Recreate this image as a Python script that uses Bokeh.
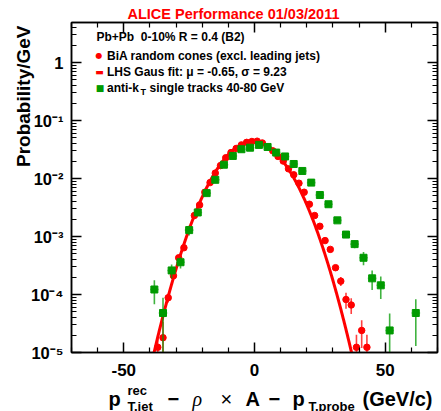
import numpy as np
from bokeh.plotting import figure
from bokeh.layouts import column
from bokeh.models import (Label, LinearAxis, LogAxis, FixedTicker, ColumnDataSource, Range1d, Title)
from bokeh.embed import file_html
from bokeh.resources import INLINE

# ---------------- data ----------------
red_x = [-37, -35, -33, -31, -29, -27, -25, -23, -21, -19, -17, -15, -13, -11, -9, -7, -5, -3, -1,
         1, 3, 5, 7, 9, 11, 13, 15, 17, 19, 21, 23, 25, 27, 29, 31, 33, 35, 37, 39, 41, 43]
red_y = [1.23e-5, 1.8e-5, 8.8e-5, 2.1e-4, 4.3e-4, 6.4e-4, 1.32e-3, 2.3e-3, 3.5e-3, 5.8e-3, 8.5e-3,
         1.24e-2, 1.67e-2, 2.28e-2, 2.8e-2, 3.3e-2, 3.8e-2, 4.2e-2, 4.35e-2,
         4.4e-2, 4.1e-2, 3.5e-2, 3.0e-2, 2.4e-2, 2.0e-2, 1.47e-2, 1.16e-2, 8.3e-3, 5.8e-3, 3.6e-3,
         2.3e-3, 1.5e-3, 8.5e-4, 6.0e-4, 2.9e-4, 1.7e-4, 8.2e-5, 6.6e-5, 1.23e-5, 2.4e-5, 1.23e-5]
red_err = [5e-6, 1.6e-5, 1.5e-5, 2e-5, 3e-5, 4e-5, 6e-5, 8e-5, 1e-4, 1.3e-4, 1.6e-4,
           2e-4, 2.3e-4, 2.7e-4, 3e-4, 3.3e-4, 3.5e-4, 3.7e-4, 3.8e-4,
           3.8e-4, 3.7e-4, 3.4e-4, 3.2e-4, 2.8e-4, 2.5e-4, 2.2e-4, 1.9e-4, 1.6e-4, 1.3e-4, 1e-4,
           8e-5, 6e-5, 4.5e-5, 3.5e-5, 3e-5, 3e-5, 2.5e-5, 2e-5, 8e-6, 1.2e-5, 8e-6]

green_x = [-38.3, -35.0, -31.7, -28.3, -25.0, -21.7, -18.3, -15.0, -11.7, -8.3, -5.0, -1.7,
           1.7, 5.0, 8.3, 11.7, 15.0, 18.3, 21.7, 25.0, 28.3, 31.7, 35.0, 38.3, 41.7, 45.0,
           48.3, 51.7, 61.7]
green_y = [1.22e-4, 4.8e-5, 2.6e-4, 3.6e-4, 1.29e-3, 2.6e-3, 5.6e-3, 9.5e-3, 1.73e-2, 2.45e-2,
           3.2e-2, 3.4e-2, 3.8e-2, 3.5e-2, 2.8e-2, 2.4e-2, 1.78e-2, 1.35e-2, 8.5e-3, 5.2e-3,
           3.6e-3, 1.9e-3, 1.08e-3, 7.4e-4, 4.3e-4, 1.9e-4, 1.44e-4, 2.4e-5, 4.8e-5]
green_err = [5.4e-5, 4.0e-5, 7e-5, 8e-5, 2.5e-4, 3e-4, 4e-4, 5e-4, 7e-4, 8e-4, 1e-3, 1e-3,
             1e-3, 1e-3, 9e-4, 8e-4, 7e-4, 6e-4, 4e-4, 3e-4, 2.5e-4, 1.8e-4, 1.3e-4, 1.1e-4,
             1.1e-4, 7e-5, 6e-5, 2.3e-5, 3.5e-5]
green_half_bin = 1.67

fit_mu = -0.65
fit_sigma = 9.23

x_ticks = [-50, 0, 50]
y_ticks = [1e-5, 1e-4, 1e-3, 1e-2, 1e-1, 1.0]
y_tick_labels = ["10\u207b\u2075", "10\u207b\u2074", "10\u207b\u00b3", "10\u207b\u00b2", "10\u207b\u00b9", "1"]

# ---------------- main figure ----------------
W, H = 441, 411
FL, FT, FW, FH = 71, 22, 366, 330
FB = FT + FH
BOTTOM = 37                  # bottom border of the main plot (x tick labels)
MAIN_H = FB + BOTTOM
OVERLAP = 8                  # the x-title strip slides up under the tick-label band
STRIP_TOP = MAIN_H - OVERLAP
XH = H - STRIP_TOP

p = figure(frame_width=FW, frame_height=FH, x_range=Range1d(-70, 70), y_range=Range1d(1e-5, 4.9),
           y_axis_type="log", output_backend="svg", toolbar_location=None,
           min_border_left=FL, min_border_right=W - FL - FW, min_border_top=FT,
           min_border_bottom=BOTTOM, background_fill_color="white", border_fill_color="white")
p.frame_align = False
p.xgrid.visible = False
p.ygrid.visible = False
p.outline_line_color = "black"
p.outline_line_width = 1.5

p.title.text = "ALICE Performance 01/03/2011"
p.title.text_color = "#ff0000"
p.title.text_font = "Liberation Sans"
p.title.text_font_style = "bold"
p.title.text_font_size = "14.5px"
p.title.align = "left"
p.title.offset = 56
p.title.standoff = 2

ylab = Title(text="Probability/GeV", align="right", offset=3, text_font="Liberation Sans",
             text_font_style="bold", text_font_size="19px", text_color="black",
             vertical_align="top", standoff=-17)

minor_y = [k * 10.0 ** e for e in range(-5, 1) for k in range(2, 10)]
minor_x = [v for v in range(-70, 71, 10) if v not in x_ticks]
xt = FixedTicker(ticks=x_ticks, minor_ticks=minor_x)
yt = FixedTicker(ticks=y_ticks, minor_ticks=minor_y)

def style_axis(ax, ticks, labels, size="17px"):
    ax.major_tick_in = 10
    ax.major_tick_out = 0
    ax.minor_tick_in = 5
    ax.minor_tick_out = 0
    ax.axis_line_width = 1.5
    ax.major_tick_line_width = 1.5
    ax.minor_tick_line_width = 1.2
    ax.axis_line_color = "black"
    ax.major_tick_line_color = "black"
    ax.minor_tick_line_color = "black"
    ax.major_label_overrides = dict(zip(ticks, labels))
    ax.major_label_text_font = "Liberation Sans"
    ax.major_label_text_font_style = "bold"
    ax.major_label_text_font_size = size
    ax.major_label_text_color = "black"

p.xaxis[0].ticker = xt
p.yaxis[0].ticker = yt
style_axis(p.xaxis[0], x_ticks, [str(v) for v in x_ticks])
style_axis(p.yaxis[0], y_ticks, y_tick_labels, size="16.5px")
p.xaxis[0].major_label_standoff = 11
p.yaxis[0].major_label_standoff = 8

top_ax = LinearAxis(ticker=xt)
style_axis(top_ax, x_ticks, [""] * len(x_ticks), size="1px")
top_ax.major_label_standoff = 0
p.add_layout(top_ax, "above")
right_ax = LogAxis(ticker=yt)
style_axis(right_ax, y_ticks, [""] * len(y_ticks), size="1px")
right_ax.major_label_standoff = 0
p.add_layout(right_ax, "right")
p.add_layout(ylab, "left")

# ---------------- glyphs ----------------
red = "#ff0000"
green = "#009a00"
ry = np.array(red_y); re = np.array(red_err)
rsrc = ColumnDataSource(dict(x=red_x, y=red_y, lo=np.maximum(ry - re, 1e-7), hi=ry + re))
gy = np.array(green_y); ge = np.array(green_err); gx = np.array(green_x)
gsrc = ColumnDataSource(dict(x=green_x, y=green_y, lo=np.maximum(gy - ge, 1e-7), hi=gy + ge,
                             xl=gx - green_half_bin, xr=gx + green_half_bin))

p.segment(x0="x", y0="lo", x1="x", y1="hi", source=rsrc, line_color=red, line_width=1.6, line_alpha=0.75)
p.scatter(x="x", y="y", source=rsrc, marker="circle", size=6.5, fill_color=red, line_color=red)

fx = np.linspace(-45, 45, 500)
fy = np.exp(-0.5 * ((fx - fit_mu) / fit_sigma) ** 2) / (np.sqrt(2 * np.pi) * fit_sigma)
p.line(fx, fy, line_color=red, line_width=3)

p.segment(x0="xl", y0="y", x1="xr", y1="y", source=gsrc, line_color=green, line_width=1.6, line_alpha=0.45)
p.segment(x0="x", y0="lo", x1="x", y1="hi", source=gsrc, line_color=green, line_width=1.6, line_alpha=0.75)
p.scatter(x="x", y="y", source=gsrc, marker="square", size=7, fill_color=green, line_color=green)

# ---------------- legend block (inside the frame) ----------------
def lab(text, cx, cy, size, color="black", style="bold", font="Liberation Sans",
        align="left", baseline="middle"):
    p.add_layout(Label(x=cx - FL, y=FB - cy, x_units="screen", y_units="screen", text=text,
                       text_font=font, text_font_size=f"{size}px", text_font_style=style,
                       text_color=color, text_align=align, text_baseline=baseline))

lab("Pb+Pb\u00a0 0-10% R = 0.4 (B2)", 96, 36.5, 12)
lab("\u25cf", 98.5, 55, 8, color=red, style="normal", font="DejaVu Sans", align="center")
lab("BiA random cones (excl. leading jets)", 106.5, 55, 12)
lab("\u25ac", 99, 71, 9, color=red, style="normal", font="DejaVu Sans", align="center")
lab("LHS Gaus fit: \u03bc = -0.65, \u03c3 = 9.23", 106.5, 71, 12)
lab("\u25a0", 99.5, 87.5, 9, color=green, style="normal", font="DejaVu Sans", align="center")
lab("anti-k", 106.5, 87.5, 12)
lab("T", 140, 91.5, 9)
lab("single tracks 40-80 GeV", 149, 87.5, 12)

# ---------------- x-axis title strip ----------------
xf = figure(width=W, height=XH, x_range=Range1d(0, W), y_range=Range1d(XH, 0), title=None,
            output_backend="svg", toolbar_location=None, x_axis_location=None, y_axis_location=None,
            min_border=0, min_border_left=0, min_border_right=0, min_border_top=0, min_border_bottom=0,
            background_fill_color=None, border_fill_color=None)
xf.frame_align = False
xf.outline_line_color = None
xf.xgrid.visible = False
xf.ygrid.visible = False
try:
    xf.margin = (-OVERLAP, 0, 0, 0)
except Exception:
    STRIP_TOP = MAIN_H

BASE_SHIFT = 0.28            # measured drop of the alphabetic baseline, in em

def xlab(text, cx, cy, size, style="bold", font="Liberation Sans"):
    xf.add_layout(Label(x=cx, y=cy - STRIP_TOP - BASE_SHIFT * size, text=text, text_font=font,
                        text_font_size=f"{size}px", text_font_style=style, text_color="black",
                        text_align="left", text_baseline="alphabetic"))

base = 404
xlab("p", 108, base, 20)
xlab("rec", 127, 393.5, 13)
xlab("T,jet", 127, 410, 13)
xlab("\u2212", 167, base, 20)
xlab("\u03c1", 192, base, 20, style="italic", font="Liberation Serif")
xlab("\u00d7", 220, base, 20, style="normal")
xlab("A", 245, base, 20)
xlab("\u2212", 268, base, 20)
xlab("p", 292, base, 20)
xlab("T,probe", 308, 410, 13)
xlab("(GeV/c)", 362, base, 20)

layout = column(p, xf, spacing=0)
open("out.html", "w").write(file_html(layout, INLINE))
